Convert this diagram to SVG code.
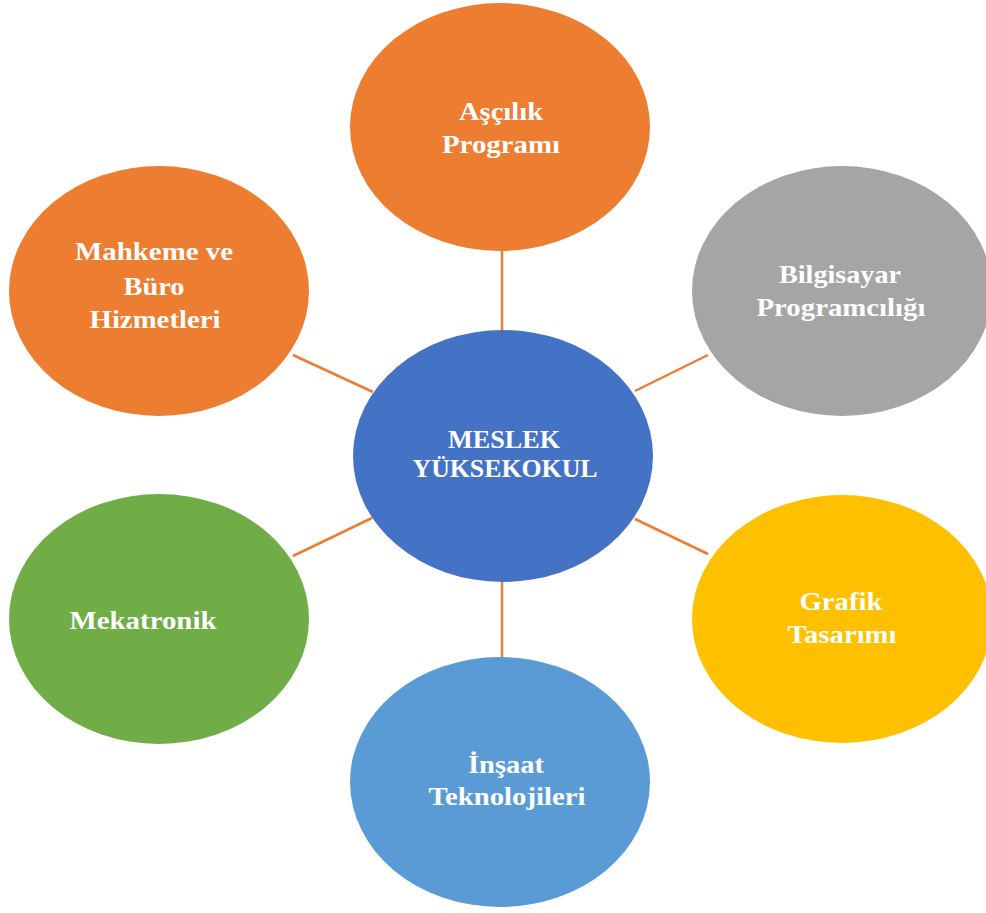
<svg xmlns="http://www.w3.org/2000/svg" width="986" height="913" viewBox="0 0 986 913">
<style>
.t{font-family:"Liberation Serif","Times New Roman",serif;font-weight:bold;font-size:25px;fill:#fff;text-anchor:middle}
.c{stroke:#ED7D31;stroke-width:2.5;fill:none}
</style>
<rect width="986" height="913" fill="#fff"/>
<g id="connectors">
<line class="c" x1="502" y1="250" x2="502" y2="331"/>
<line class="c" x1="502" y1="581" x2="502" y2="658"/>
<line class="c" x1="293" y1="355" x2="373" y2="392"/>
<line class="c" x1="293" y1="556" x2="372" y2="518"/>
<line class="c" x1="708" y1="355" x2="635" y2="391"/>
<line class="c" x1="635" y1="519" x2="708" y2="554"/>
</g>
<g id="n-ascilik">
<ellipse cx="500" cy="127" rx="150" ry="124" fill="#ED7D31"/>
<text class="t" x="501" y="120" textLength="84" lengthAdjust="spacingAndGlyphs">Aşçılık</text>
<text class="t" x="501" y="153" textLength="118" lengthAdjust="spacingAndGlyphs">Programı</text>
</g>
<g id="n-bilgisayar">
<ellipse cx="842" cy="291" rx="150" ry="125" fill="#A5A5A5"/>
<text class="t" x="840" y="283" textLength="122" lengthAdjust="spacingAndGlyphs">Bilgisayar</text>
<text class="t" x="841" y="316" textLength="169" lengthAdjust="spacingAndGlyphs">Programcılığı</text>
</g>
<g id="n-mahkeme">
<ellipse cx="159" cy="291" rx="150" ry="125" fill="#ED7D31"/>
<text class="t" x="154" y="260" textLength="158" lengthAdjust="spacingAndGlyphs">Mahkeme ve</text>
<text class="t" x="154" y="295" textLength="61" lengthAdjust="spacingAndGlyphs">Büro</text>
<text class="t" x="155" y="328" textLength="131" lengthAdjust="spacingAndGlyphs">Hizmetleri</text>
</g>
<g id="n-meslek">
<ellipse cx="503" cy="456" rx="150" ry="126" fill="#4472C4"/>
<text class="t" x="504" y="448" textLength="112" lengthAdjust="spacingAndGlyphs">MESLEK</text>
<text class="t" x="505" y="477" textLength="185" lengthAdjust="spacingAndGlyphs">YÜKSEKOKUL</text>
</g>
<g id="n-mekatronik">
<ellipse cx="159" cy="619" rx="150" ry="125" fill="#70AD47"/>
<text class="t" x="143" y="629" textLength="147" lengthAdjust="spacingAndGlyphs">Mekatronik</text>
</g>
<g id="n-grafik">
<ellipse cx="842" cy="619" rx="150" ry="124" fill="#FFC000"/>
<text class="t" x="841" y="610" textLength="83" lengthAdjust="spacingAndGlyphs">Grafik</text>
<text class="t" x="842" y="643" textLength="109" lengthAdjust="spacingAndGlyphs">Tasarımı</text>
</g>
<g id="n-insaat">
<ellipse cx="500" cy="782" rx="150" ry="125" fill="#5B9BD5"/>
<text class="t" x="506" y="773" textLength="76" lengthAdjust="spacingAndGlyphs">İnşaat</text>
<text class="t" x="507" y="805" textLength="157" lengthAdjust="spacingAndGlyphs">Teknolojileri</text>
</g>
</svg>
